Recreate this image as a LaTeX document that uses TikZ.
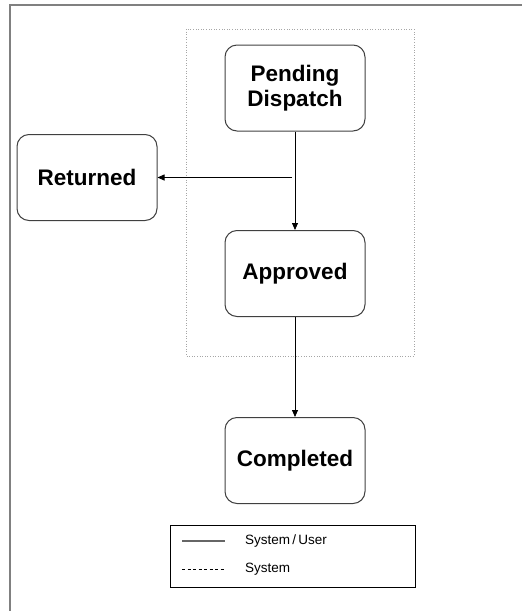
\documentclass[tikz,border=0pt]{standalone}
\usepackage{fontspec}
\setmainfont{Liberation Sans}
\usetikzlibrary{arrows.meta}

\begin{document}
\begin{tikzpicture}[x=1pt, y=-1pt,
    state/.style={draw=black!75, line width=1pt, rounded corners=12pt, minimum width=140pt, minimum height=86pt, align=center, font=\fontsize{22.5}{25}\selectfont\bfseries},
    flow/.style={-{Triangle[length=7pt, width=6pt]}, line width=0.8pt},
    legendtext/.style={anchor=west, inner sep=0pt, font=\fontsize{13.5}{16}\selectfont}]
                \useasboundingbox (0,0) rectangle (522,611);
                \draw[gray, line width=2pt] (10,611) -- (10,5) -- (522,5);
                \draw[gray!70, dotted, line width=0.6pt] (186,29) rectangle (414,356);
                \node[state] (pending) at (295,88) {Pending\\Dispatch};
                \node[state] (returned) at (87,177.5) {Returned};
                \node[state] (approved) at (295,273.5) {Approved};
                \node[state] (completed) at (295,460.5) {Completed};
                \coordinate (fork) at (292,177.5);
                \draw[flow] (pending) -- (approved);
                \draw[flow] (fork) -- (returned);
                \draw[flow] (approved) -- (completed);
                \node[draw, line width=0.8pt, minimum width=245pt, minimum height=62pt] (legend) at (292.5,556) {};
                \coordinate (solidA) at (182,541);
                \coordinate (solidB) at (225,541);
                \coordinate (dashA) at (182,569);
                \coordinate (dashB) at (225,569);
                \draw[gray!80!black, line width=1.2pt] (solidA) -- (solidB);
                \draw[dash pattern=on 3pt off 2.5pt, line width=0.6pt] (dashA) -- (dashB);
                \node[legendtext] (sysuser) at (245,541) {System\,/\,User};
                \node[legendtext] (sys) at (245,569) {System};
            \end{tikzpicture}
\end{document}
